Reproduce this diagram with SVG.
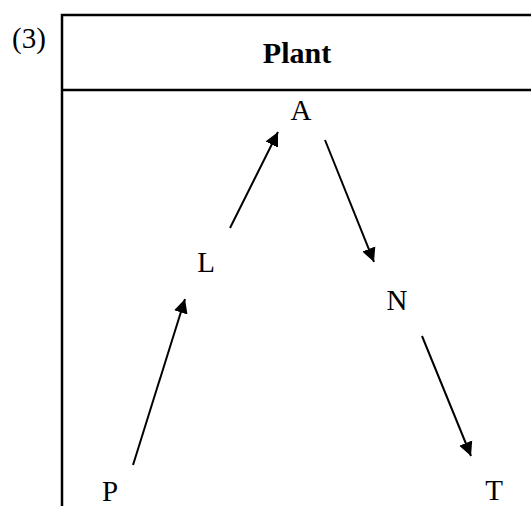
<svg xmlns="http://www.w3.org/2000/svg" width="531" height="506" viewBox="0 0 531 506">
<defs>
<style>
.t{font-family:"Liberation Serif","Times New Roman",serif;font-size:29px;fill:#000}
.b{font-weight:bold;font-size:30px}
.frame{stroke:#000;stroke-width:2.5;fill:none}
.edge{stroke:#000;stroke-width:2;fill:none;marker-end:url(#ah)}
</style>
<marker id="ah" viewBox="0 0 10 10" refX="10" refY="5" markerWidth="7" markerHeight="8" markerUnits="strokeWidth" orient="auto">
<path d="M0,0 L10,5 L0,10 z" fill="#000"/>
</marker>
</defs>
<rect width="531" height="506" fill="#fff"/>
<text class="t" x="12" y="48">(3)</text>
<g id="frame">
<path class="frame" d="M62,506 V15 H531 M62,90 H531"/>
<text class="t b" x="297" y="63" text-anchor="middle">Plant</text>
</g>
<g id="connectors">
<line class="edge" x1="133" y1="465" x2="185" y2="299"/>
<line class="edge" x1="230" y1="228" x2="278" y2="132"/>
<line class="edge" x1="325" y1="140" x2="374" y2="262"/>
<line class="edge" x1="422" y1="336" x2="471" y2="456"/>
</g>
<g id="node-A"><text class="t" x="301" y="120" text-anchor="middle">A</text></g>
<g id="node-L"><text class="t" x="206" y="272" text-anchor="middle">L</text></g>
<g id="node-N"><text class="t" x="397" y="310" text-anchor="middle">N</text></g>
<g id="node-P"><text class="t" x="110" y="501" text-anchor="middle">P</text></g>
<g id="node-T"><text class="t" x="494" y="500" text-anchor="middle">T</text></g>
</svg>
